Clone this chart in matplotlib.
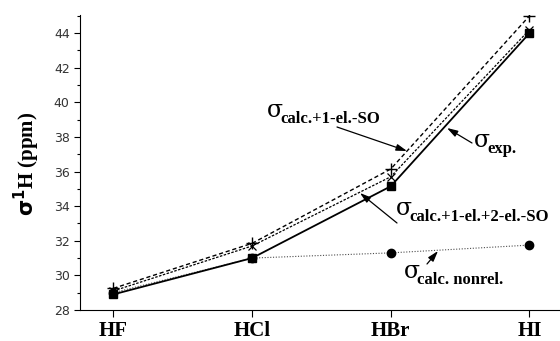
import matplotlib.pyplot as plt
from matplotlib.ticker import MultipleLocator

molecules = ["HF", "HCl", "HBr", "HI"]
sigma_exp = [28.9, 31.0, 35.15, 44.0]
sigma_1el = [29.25, 31.85, 36.15, 45.0]
sigma_1el_2el = [29.1, 31.7, 35.7, 44.2]
sigma_nonrel = [29.0, 31.0, 31.3, 31.75]

serif = "Liberation Serif"

fig = plt.figure(figsize=(5.6, 3.41), dpi=100)
ax = fig.add_axes([0.143, 0.091, 0.857, 0.865])

x = range(len(molecules))
ax.plot(x, sigma_nonrel, color="0.3", lw=0.8, ls=(0, (1, 1.5)),
        marker="o", ms=6, mfc="black", mec="black")
ax.plot(x, sigma_1el_2el, color="black", lw=0.9, ls=(0, (2, 1.2)),
        marker="x", ms=6, mew=0.9)
ax.plot(x, sigma_1el, color="black", lw=1.0, ls=(0, (3, 2)),
        marker="+", ms=8, mew=1.0)
ax.plot(x, sigma_exp, color="black", lw=1.3, ls="-",
        marker="s", ms=6)

ax.set_xlim(-0.24, 3.22)
ax.set_ylim(28, 45.05)
ax.set_xticks(list(x))
ax.set_xticklabels(molecules, fontfamily=serif, fontweight="bold", fontsize=15)
ax.yaxis.set_major_locator(MultipleLocator(2))
ax.yaxis.set_minor_locator(MultipleLocator(1))
ax.tick_params(axis="y", labelsize=9, labelcolor="0.2", length=4,
               width=0.8, direction="out")
ax.tick_params(axis="y", which="minor", length=2.5, width=0.8)
ax.tick_params(axis="x", length=5, width=0.8, pad=3)
for s in ["top", "right"]:
    ax.spines[s].set_visible(False)

fig.text(0.048, 0.52, r"$\mathbf{\sigma}$" + "$^{\\mathbf{1}}$" + "H (ppm)",
         rotation=90, ha="center", va="center",
         fontfamily=serif, fontweight="bold", fontsize=15)


def pix(px, py):
    return ax.transData.inverted().transform(
        fig.transFigure.transform((px / 560, 1 - py / 341)))


def label(px, py, sub, arrow_from, arrow_to):
    fig.text(px / 560, 1 - py / 341, "σ", fontfamily="DejaVu Serif",
             fontsize=17, ha="left", va="baseline")
    fig.text((px + 13) / 560, 1 - (py + 6) / 341, sub, fontfamily=serif,
             fontweight="bold", fontsize=12, ha="left", va="baseline")
    ax.annotate("", xy=pix(*arrow_to), xytext=pix(*arrow_from),
                arrowprops=dict(arrowstyle="-|>,head_length=0.8,head_width=0.25",
                                color="black", lw=0.9,
                                mutation_scale=8, shrinkA=0, shrinkB=0))


label(267, 117, "calc.+1-el.-SO", (337, 127), (407, 151))
label(474, 147, "exp.", (472, 143), (447, 128))
label(396, 215, "calc.+1-el.+2-el.-SO", (397, 223), (360, 193))
label(404, 278, "calc. nonrel.", (427, 264), (438, 251))

fig.savefig("out.png", dpi=100)
